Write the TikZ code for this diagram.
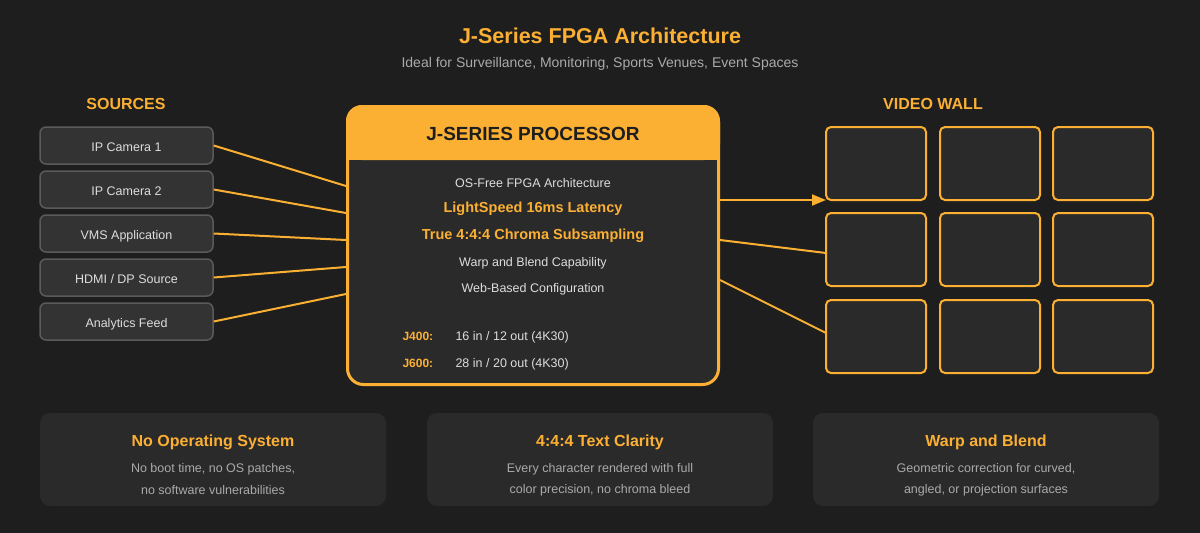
\documentclass[tikz,border=0pt]{standalone}
\usepackage{fontspec}
\setmainfont{Liberation Sans}
\usetikzlibrary{arrows.meta}
\definecolor{bg}{HTML}{1E1E1E}
\definecolor{org}{HTML}{FBB034}
\definecolor{card}{HTML}{2A2A2A}
\definecolor{src}{HTML}{333333}
\definecolor{srcb}{HTML}{5A5A5A}
\definecolor{txt}{HTML}{DDDDDD}
\definecolor{gr}{HTML}{AAAAAA}
\newcommand{\fs}[1]{\fontsize{#1}{#1}\selectfont}
\begin{document}
\begin{tikzpicture}[x=1pt,y=-1pt,
 srcbox/.style={draw=srcb,fill=src,line width=1.5pt,rounded corners=6pt,minimum width=173pt,minimum height=37pt,text=txt,font=\fs{12.5},text height=13pt,text depth=1pt},
 scr/.style={draw=org,fill=card,line width=2pt,rounded corners=5pt},
 wire/.style={org,line width=2pt},
 crd/.style={fill=card,rounded corners=10pt},
 ttl/.style={text=org,font=\bfseries\fs{16}},
 sub/.style={text=gr,font=\fs{12.5},align=center},
 ln/.style={text=txt,font=\fs{12.5}},
 hl/.style={text=org,font=\bfseries\fs{14.5}}]
\fill[bg] (0,0) rectangle (1200,533);
\node[text=org,font=\bfseries\fs{21.5}] (title) at (600,36) {J-Series FPGA Architecture};
\node[text=gr,font=\fs{14}] (subt) at (600,64) {Ideal for Surveillance, Monitoring, Sports Venues, Event Spaces};
\node[ttl] (srch) at (126,104) {SOURCES};
\node[ttl] (vwh) at (933,104) {VIDEO WALL};
\node[srcbox] (s1) at (126.5,145.5) {IP Camera 1};
\node[srcbox] (s2) at (126.5,189.5) {IP Camera 2};
\node[srcbox] (s3) at (126.5,233.5) {VMS Application};
\node[srcbox] (s4) at (126.5,277.5) {HDMI / DP Source};
\node[srcbox] (s5) at (126.5,321.5) {Analytics Feed};
% processor
\fill[card,rounded corners=16pt] (346,105) rectangle (720,386);
\fill[org,rounded corners=16pt] (346,105) rectangle (720,160);
\fill[org] (346,140) rectangle (720,160);
\draw[org,line width=3pt,rounded corners=16pt] (347.5,106.5) rectangle (718.5,384.5);
\node[font=\bfseries\fs{19},text=bg] (ph) at (533,134) {J-SERIES PROCESSOR};
\node[ln] (l1) at (533,183) {OS-Free FPGA Architecture};
\node[hl] (l2) at (533,209) {LightSpeed 16ms Latency};
\node[hl] (l3) at (533,236) {True 4:4:4 Chroma Subsampling};
\node[ln] (l4) at (533,263) {Warp and Blend Capability};
\node[ln] (l5) at (533,289) {Web-Based Configuration};
\node[text=org,font=\bfseries\fs{12},anchor=base west] (j4) at (399,340) {J400:};
\node[ln,anchor=base west] (j4t) at (452,340) {16 in / 12 out (4K30)};
\node[text=org,font=\bfseries\fs{12},anchor=base west] (j6) at (399,367) {J600:};
\node[ln,anchor=base west] (j6t) at (452,367) {28 in / 20 out (4K30)};
\coordinate (i1) at (346,186);\coordinate (i2) at (346,213);\coordinate (i3) at (346,240);
\coordinate (i4) at (346,267);\coordinate (i5) at (346,294);
\draw[wire] (s1.east) -- (i1);\draw[wire] (s2.east) -- (i2);\draw[wire] (s3.east) -- (i3);
\draw[wire] (s4.east) -- (i4);\draw[wire] (s5.east) -- (i5);
% screens
\foreach \x in {826,940,1053}{
 \foreach \y in {127,213,300}{
  \draw[scr] (\x,\y) rectangle ++(100,73);}}
\coordinate (o1) at (720,200);\coordinate (o2) at (720,240);\coordinate (o3) at (720,280);
\coordinate (t1) at (826,200);\coordinate (t2) at (826,253);\coordinate (t3) at (826,333);
\draw[wire,-{Triangle[length=14pt,width=11pt]}] (o1) -- (t1);
\draw[wire] (o2) -- (t2);
\draw[wire] (o3) -- (t3);
% bottom cards
\foreach \x/\t/\a/\b in {40/{No Operating System}/{No boot time, no OS patches,}/{no software vulnerabilities},
 427/{4:4:4 Text Clarity}/{Every character rendered with full}/{color precision, no chroma bleed},
 813/{Warp and Blend}/{Geometric correction for curved,}/{angled, or projection surfaces}}{
 \fill[crd] (\x,413) rectangle ++(346,93);
 \node[ttl] at (\x+173,442) {\t};
 \node[sub] at (\x+173,469) {\a};
 \node[sub] at (\x+173,490) {\b};}
\end{tikzpicture}
\end{document}
